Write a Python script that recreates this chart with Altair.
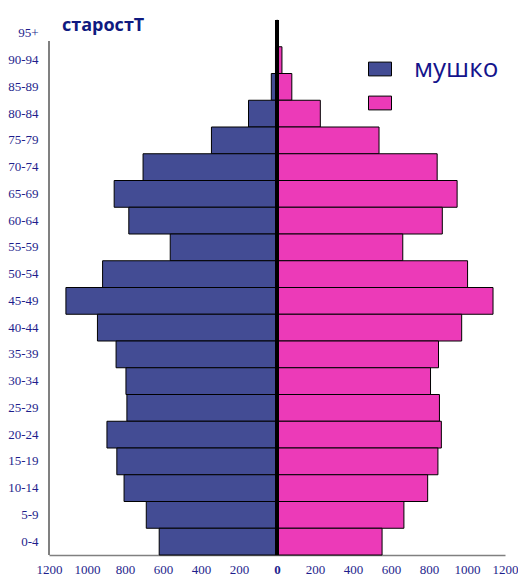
import altair as alt
import pandas as pd

ages = ["95+", "90-94", "85-89", "80-84", "75-79", "70-74", "65-69", "60-64",
        "55-59", "50-54", "45-49", "40-44", "35-39", "30-34", "25-29", "20-24",
        "15-19", "10-14", "5-9", "0-4"]
male = [1, 8, 30, 150, 345, 705, 857, 780, 562, 918, 1111, 945, 847, 795,
        790, 895, 843, 805, 688, 620]
female = [2, 26, 78, 228, 537, 843, 948, 870, 662, 1003, 1137, 972, 850, 808,
          855, 865, 847, 793, 668, 553]
series = ["мушко", ""]
x_ticks = [-1200, -1000, -800, -600, -400, -200, 0, 200, 400, 600, 800, 1000, 1200]
title_text = "старостТ"

rows = []
for a, m, f in zip(ages, male, female):
    rows.append({"age": a, "sex": series[0], "value": -m})
    rows.append({"age": a, "sex": series[1], "value": f})
df = pd.DataFrame(rows)

NAVY = "#1E1E8C"
BLUE = "#434C94"
PINK = "#EC3AB8"
SERIF = "Liberation Serif"

x_scale = alt.Scale(domain=[-1200, 1200], nice=False)
x_axis = alt.Axis(title=None, values=x_ticks, ticks=False, grid=False,
                  labelExpr="format(abs(datum.value), 'd')",
                  labelFont=SERIF, labelFontSize=13,
                  labelColor=NAVY, labelPadding=8, labelFlush=False,
                  labelOverlap=False, labelBound=False,
                  labelFontWeight={"condition": {"test": "datum.value == 0", "value": "bold"}, "value": "normal"},
                  domainColor="#808080", domainWidth=1.5)

bars = alt.Chart(df).mark_bar(stroke="black", strokeWidth=1).encode(
    y=alt.Y("age:N", sort=ages, scale=alt.Scale(paddingInner=0, paddingOuter=0),
            axis=alt.Axis(title=None, ticks=False, domain=False, labelPadding=11,
                          labelFont=SERIF, labelFontSize=13,
                          labelColor=NAVY, grid=False)),
    x=alt.X("value:Q", scale=x_scale, axis=x_axis),
    color=alt.Color("sex:N", scale=alt.Scale(domain=series, range=[BLUE, PINK]),
                    legend=alt.Legend(title=None, orient="none", legendX=318, legendY=36,
                                      symbolType="M-1,-0.6H1V0.6H-1Z", symbolSize=529,
                                      symbolStrokeColor="black", symbolStrokeWidth=1,
                                      symbolOpacity=1,
                                      labelFont="Open Sans", labelFontSize=26,
                                      labelColor="#14148C", labelOffset=21, rowPadding=8,
                                      padding=0)),
)

zero = alt.Chart(df).mark_rule(color="black", strokeWidth=2.5).encode(
    x=alt.X(datum=0, type="quantitative", scale=x_scale, axis=x_axis)
)

yline = alt.Chart(df).mark_rule(color="#808080", strokeWidth=1.5).encode(
    x=alt.value(0), y=alt.value(21), y2=alt.value(535)
)

title = alt.Chart(pd.DataFrame({"t": [title_text]})).mark_text(
    align="left", baseline="alphabetic", font="Open Sans", fontWeight="bold",
    fontSize=18, color="#0F1A80"
).encode(x=alt.value(13), y=alt.value(11), text="t:N")

chart = alt.layer(bars, zero, yline, title).properties(
    width=456, height=535,
    autosize=alt.AutoSizeParams(type="none"),
    padding={"left": 41, "top": 12, "right": 13, "bottom": 22},
).configure_view(stroke=None).configure_axis(labelOverlap=False, labelFont=SERIF)

chart.save("out.html", embed_options={"renderer": "svg", "actions": False})
